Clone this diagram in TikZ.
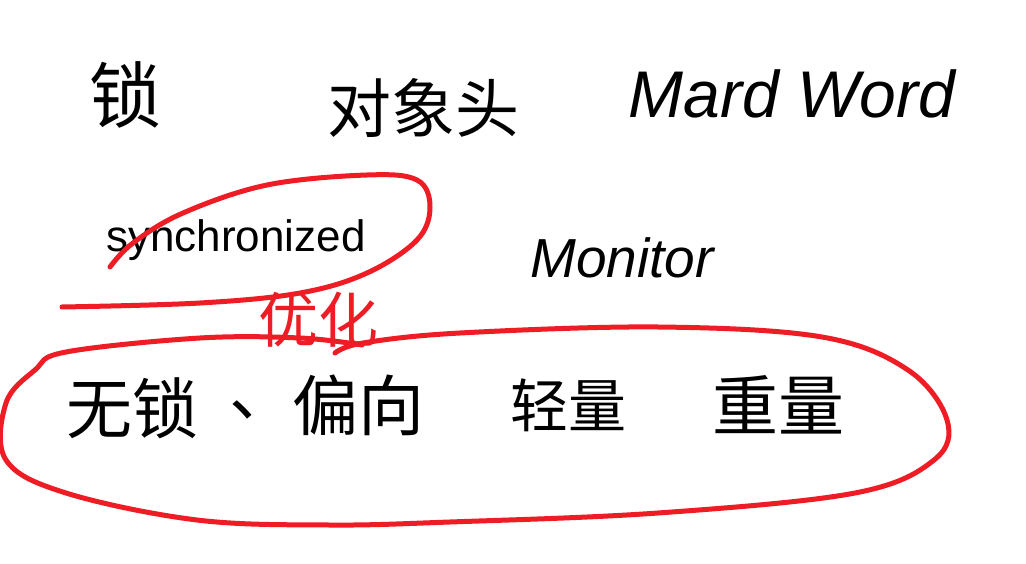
\documentclass[tikz,border=0pt]{standalone}
\usepackage{fontspec}
\setmainfont{Liberation Sans}
\newfontfamily\cjk{Noto Sans CJK SC}
\definecolor{pen}{RGB}{238,28,36}

\begin{document}
\begin{tikzpicture}[x=1pt,y=-1pt,
  hand/.style={inner sep=0pt, anchor=center, text=black},
  redpen/.style={pen, line width=5pt, line cap=round, line join=round}]
\useasboundingbox (0,0) rectangle (1026,564);
\fill[white] (0,0) rectangle (1026,564);
\node[hand, font=\cjk\fontsize{72}{72}\selectfont] (suo) at (125,95) {锁};
\node[hand, font=\cjk\fontsize{64}{64}\selectfont] (duixiangtou) at (423,108) {对象头};
\node[hand, font=\itshape\fontsize{66}{66}\selectfont] (markword) at (792,94) {Mard Word};
\node[hand, font=\fontsize{44}{44}\selectfont] (sync) at (236,240) {synchronized};
\node[hand, font=\itshape\fontsize{55}{55}\selectfont] (monitor) at (622,258) {Monitor};
\node[hand, font=\cjk\fontsize{60}{60}\selectfont, text=pen] (youhua) at (318,320) {优化};
\node[hand, font=\cjk\fontsize{66}{66}\selectfont] (wusuo) at (132,408) {无锁};
\node[hand, font=\cjk\fontsize{66}{66}\selectfont] (dun) at (262,410) {、};
\node[hand, font=\cjk\fontsize{66}{66}\selectfont] (pianxiang) at (358,405) {偏向};
\node[hand, font=\cjk\fontsize{58}{58}\selectfont] (qingliang) at (568,405) {轻量};
\node[hand, font=\cjk\fontsize{66}{66}\selectfont] (zhongliang) at (778,405) {重量};
\draw[redpen] plot[smooth, tension=0.6] coordinates {(62,307) (200,303) (300,293) (367,273) (417,240) (430,207) (417,180) (367,175) (267,185) (183,213) (133,243) (110,267)};
\draw[redpen] plot[smooth, tension=0.6] coordinates {(335,353) (363,343) (460,333) (658,327) (822,337) (908,370) (947,420) (934,460) (855,493) (658,513) (450,522) (329,525) (197,520) (66,493) (6,460) (6,403) (35,370) (66,352) (200,338) (300,338) (362,345)};
\end{tikzpicture}
\end{document}
